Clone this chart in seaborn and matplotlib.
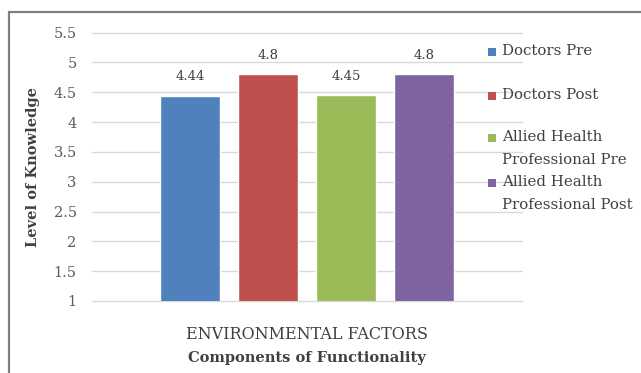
import matplotlib
matplotlib.use("Agg")
import matplotlib.pyplot as plt
import matplotlib.patches as mpatches
import pandas as pd
import seaborn as sns

# Chart data
factors = ["ENVIRONMENTAL FACTORS"]
groups = ["Doctors Pre", "Doctors Post",
          "Allied Health\nProfessional Pre", "Allied Health\nProfessional Post"]
scores = [4.44, 4.8, 4.45, 4.8]
y_ticks = [1, 1.5, 2, 2.5, 3, 3.5, 4, 4.5, 5, 5.5]
colors = ["#4F81BD", "#C0504D", "#9BBB59", "#8064A2"]

df = pd.DataFrame({
    "factor": factors * len(groups),
    "group": groups,
    "score": scores,
})

sns.set_theme(style="white")
plt.rcParams["font.family"] = ["DejaVu Serif"]
text_col = "#404040"

W, H = 641, 373
fig = plt.figure(figsize=(W / 100, H / 100), dpi=100)
ax = fig.add_axes([92 / W, 1 - 301 / H, 430 / W, (301 - 32.5) / H])

sns.barplot(data=df, x="factor", y="score", hue="group", hue_order=groups,
            palette=colors, saturation=1, width=0.726, gap=0.23,
            legend=False, ax=ax)

ax.set_ylim(1, 5.5)
ax.set_xlim(-0.5, 0.5)
ax.set_yticks(y_ticks)
ax.set_yticklabels([f"{t:g}" for t in y_ticks])
ax.grid(axis="y", color="#D9D9D9", linewidth=1)
for gl in ax.get_ygridlines():
    gl.set_clip_on(False)
ax.set_axisbelow(True)
for s in ax.spines.values():
    s.set_visible(False)
ax.tick_params(axis="y", length=0, pad=11, labelsize=10.5, labelcolor="#595959")
ax.tick_params(axis="x", length=0, pad=18, labelsize=11.5, labelcolor=text_col)

for cont in ax.containers:
    ax.bar_label(cont, fmt="%g", padding=9, fontsize=9.5, color=text_col)

ax.set_xlabel("Components of Functionality", fontsize=10.5, fontweight="bold",
              color=text_col, labelpad=6)
ax.set_ylabel("Level of Knowledge", fontsize=10.5, fontweight="bold",
              color=text_col, labelpad=10)

# Legend: colour key beside the first line of each entry
legend_rows = [52, 96, 138, 183]
for color, label, row in zip(colors, groups, legend_rows):
    fig.add_artist(mpatches.Rectangle((488 / W, 1 - (row + 4) / H), 8 / W, 8 / H,
                                      transform=fig.transFigure,
                                      facecolor=color, edgecolor="none"))
    fig.text(502 / W, 1 - (row - 8) / H, label, ha="left", va="top",
             fontsize=10.8, color=text_col, linespacing=1.85)

# Chart frame
fig.add_artist(mpatches.Rectangle((8.5 / W, -0.05), 1.2, 1 - 12 / H + 0.05,
                                  transform=fig.transFigure, fill=False,
                                  edgecolor="#808080", linewidth=1.6))

fig.savefig("out.png", dpi=100)
